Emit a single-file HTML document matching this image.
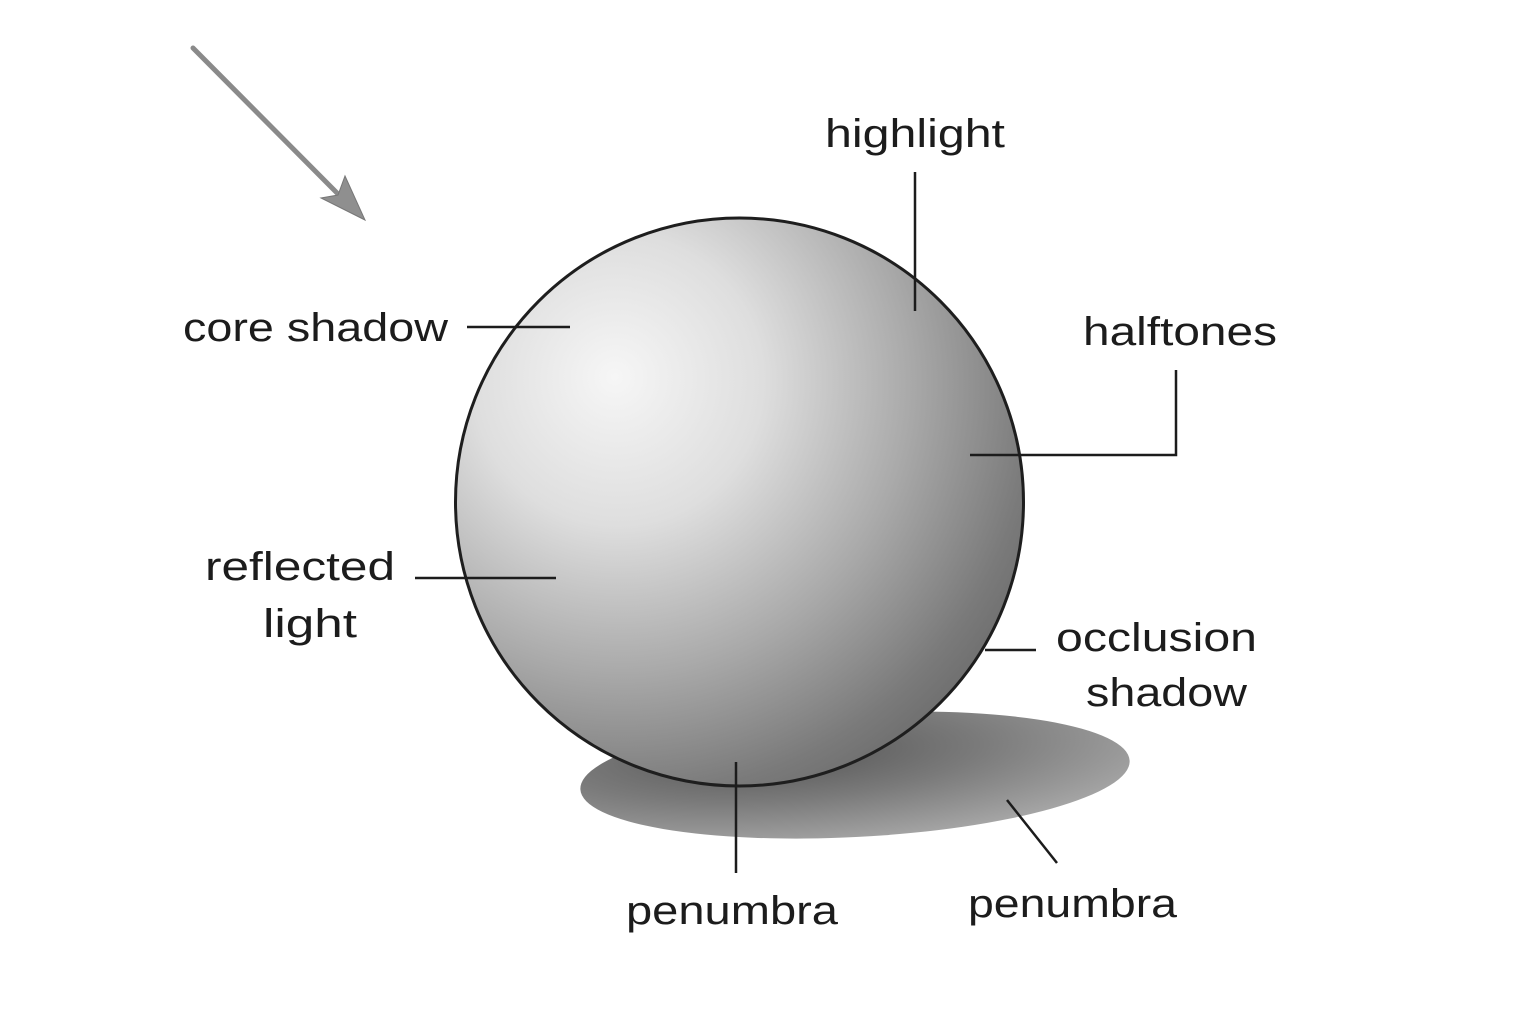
<!DOCTYPE html>
<html><head><meta charset="utf-8"><style>
html,body{margin:0;padding:0;background:#fff;}
svg{display:block;}
text{font-family:"Liberation Sans","DejaVu Sans",sans-serif;font-size:40px;fill:#1c1c1c;}
</style></head><body>
<svg width="1536" height="1024" viewBox="0 0 1536 1024" xmlns="http://www.w3.org/2000/svg">
<defs>
<radialGradient id="sph" cx="0.3" cy="0.3" r="0.85" fx="0.28" fy="0.28">
<stop offset="0" stop-color="#f6f6f6"/>
<stop offset="0.3" stop-color="#dedede"/>
<stop offset="0.6" stop-color="#a9a9a9"/>
<stop offset="0.85" stop-color="#7a7a7a"/>
<stop offset="1" stop-color="#666"/>
</radialGradient>
<radialGradient id="sh" cx="0.35" cy="0.3" r="0.75">
<stop offset="0" stop-color="#555"/>
<stop offset="0.5" stop-color="#7a7a7a"/>
<stop offset="1" stop-color="#a5a5a5"/>
</radialGradient>
</defs>
<rect width="1536" height="1024" fill="#fff"/>
<!-- arrow -->
<line x1="193" y1="48" x2="340" y2="196" stroke="#8a8a8a" stroke-width="5" stroke-linecap="round"/>
<polygon points="365,220 321,198 338,195 345,176" fill="#8f8f8f" stroke="#777" stroke-width="1"/>
<!-- shadow -->
<ellipse cx="855" cy="775" rx="275" ry="62" transform="rotate(-3 855 775)" fill="url(#sh)"/>
<!-- sphere -->
<circle cx="739.5" cy="502" r="284" fill="url(#sph)" stroke="#1e1e1e" stroke-width="3"/>
<!-- leader lines -->
<g stroke="#1c1c1c" stroke-width="2.5" fill="none">
<line x1="915" y1="172" x2="915" y2="311"/>
<line x1="467" y1="327" x2="570" y2="327"/>
<polyline points="1176,370 1176,455 970,455"/>
<line x1="415" y1="578" x2="556" y2="578"/>
<line x1="985" y1="650" x2="1036" y2="650"/>
<line x1="736" y1="762" x2="736" y2="873"/>
<line x1="1007" y1="800" x2="1057" y2="863"/>
</g>
<!-- labels -->
<text x="825" y="147" textLength="180" lengthAdjust="spacingAndGlyphs">highlight</text>
<text x="183" y="341" textLength="265" lengthAdjust="spacingAndGlyphs">core shadow</text>
<text x="1083" y="345" textLength="194" lengthAdjust="spacingAndGlyphs">halftones</text>
<text x="205" y="580" textLength="190" lengthAdjust="spacingAndGlyphs">reflected</text>
<text x="263" y="637" textLength="94" lengthAdjust="spacingAndGlyphs">light</text>
<text x="1056" y="651" textLength="201" lengthAdjust="spacingAndGlyphs">occlusion</text>
<text x="1086" y="706" textLength="161" lengthAdjust="spacingAndGlyphs">shadow</text>
<text x="626" y="924" textLength="212" lengthAdjust="spacingAndGlyphs">penumbra</text>
<text x="968" y="917" textLength="209" lengthAdjust="spacingAndGlyphs">penumbra</text>
</svg>
</body></html>
